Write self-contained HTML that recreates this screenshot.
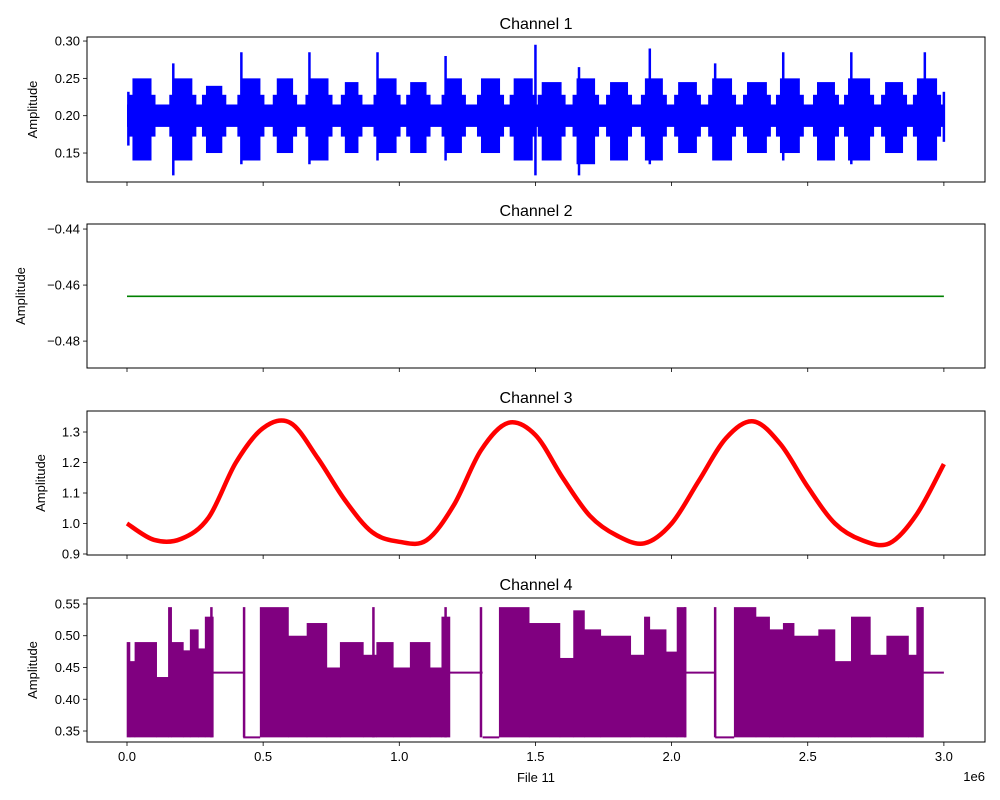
<!DOCTYPE html>
<html><head><meta charset="utf-8"><style>
html,body{margin:0;padding:0;background:#fff;}
svg{display:block;font-family:"Liberation Sans","DejaVu Sans",sans-serif;}
</style></head><body>
<svg id="fig" width="1000" height="800" viewBox="0 0 1000 800" xmlns="http://www.w3.org/2000/svg"></svg>
<script>
// ---- data ----
const xTicks = [0, 0.5, 1.0, 1.5, 2.0, 2.5, 3.0];
const xTickLabels = ["0.0","0.5","1.0","1.5","2.0","2.5","3.0"];
// Channel 1: quiet band plus bursts
const c1QuietHi = 0.215, c1QuietLo = 0.185;
const c1BurstStart = [0.02,0.17,0.29,0.42,0.55,0.67,0.80,0.92,1.04,1.17,1.30,1.42,1.523,1.651,1.774,1.902,2.024,2.149,2.277,2.398,2.534,2.648,2.784,2.901];
const c1BurstEnd   = [0.09,0.24,0.35,0.49,0.61,0.74,0.85,0.99,1.10,1.23,1.37,1.49,1.596,1.719,1.840,1.968,2.093,2.222,2.350,2.471,2.600,2.729,2.850,2.975];
const c1BurstHi    = [0.25,0.25,0.24,0.25,0.25,0.25,0.245,0.25,0.245,0.25,0.25,0.25,0.245,0.25,0.245,0.25,0.245,0.25,0.245,0.25,0.245,0.25,0.245,0.25];
const c1BurstLo    = [0.14,0.14,0.15,0.14,0.15,0.14,0.15,0.15,0.15,0.15,0.15,0.14,0.14,0.135,0.14,0.14,0.15,0.14,0.15,0.15,0.14,0.14,0.15,0.14];
const c1SpikeX  = [0.005,0.17,0.42,0.67,0.92,1.17,1.5,1.66,1.92,2.16,2.41,2.66,2.93,3.0];
const c1SpikeHi = [0.232,0.27,0.285,0.285,0.285,0.28,0.295,0.265,0.29,0.27,0.285,0.285,0.285,0.232];
const c1SpikeLo = [0.16,0.12,0.135,0.135,0.14,0.14,0.12,0.12,0.135,0.14,0.14,0.135,0.14,0.165];
// Channel 2
const c2Value = -0.464;
// Channel 3
const c3X = [0,0.1,0.2,0.3,0.4,0.5,0.6,0.7,0.8,0.9,1.0,1.1,1.2,1.3,1.4,1.5,1.6,1.7,1.8,1.9,2.0,2.1,2.2,2.3,2.4,2.5,2.6,2.7,2.8,2.9,3.0];
const c3Y = [1.0,0.946,0.95,1.02,1.20,1.313,1.33,1.215,1.077,0.972,0.94,0.945,1.06,1.24,1.33,1.29,1.15,1.025,0.96,0.935,1.0,1.14,1.28,1.335,1.26,1.12,1.0,0.945,0.935,1.03,1.195];
// Channel 4
const c4Start = [0,0.011,0.029,0.109,0.152,0.164,0.207,0.232,0.262,0.287,0.317,0.427,0.489,0.593,0.661,0.734,0.783,0.868,0.917,0.978,1.04,1.113,1.156,1.186,1.306,1.367,1.477,1.59,1.64,1.68,1.74,1.85,1.90,1.92,1.98,2.02,2.05,2.16,2.23,2.31,2.36,2.41,2.45,2.54,2.60,2.66,2.73,2.79,2.87,2.90,2.925];
const c4End   = [0.011,0.029,0.109,0.152,0.164,0.207,0.232,0.262,0.287,0.317,0.427,0.489,0.593,0.661,0.734,0.783,0.868,0.917,0.978,1.04,1.113,1.156,1.186,1.306,1.367,1.477,1.59,1.64,1.68,1.74,1.85,1.90,1.92,1.98,2.02,2.05,2.16,2.23,2.31,2.36,2.41,2.45,2.54,2.60,2.66,2.73,2.79,2.87,2.90,2.925,3.0];
const c4Hi    = [0.49,0.46,0.49,0.435,0.545,0.49,0.477,0.51,0.48,0.53,0.442,0.34,0.545,0.50,0.52,0.45,0.49,0.47,0.49,0.45,0.49,0.45,0.53,0.442,0.34,0.545,0.52,0.465,0.54,0.51,0.50,0.47,0.53,0.51,0.475,0.545,0.442,0.34,0.545,0.53,0.51,0.52,0.50,0.51,0.46,0.53,0.47,0.50,0.47,0.545,0.442];
const c4Lo    = [0.34,0.34,0.34,0.34,0.34,0.34,0.34,0.34,0.34,0.34,0.442,0.34,0.34,0.34,0.34,0.34,0.34,0.34,0.34,0.34,0.34,0.34,0.34,0.442,0.34,0.34,0.34,0.34,0.34,0.34,0.34,0.34,0.34,0.34,0.34,0.34,0.442,0.34,0.34,0.34,0.34,0.34,0.34,0.34,0.34,0.34,0.34,0.34,0.34,0.34,0.442];
const c4SpikeX = [0.31,0.43,0.905,1.17,1.30,2.05,2.16,2.92];
const c4SpikeHi = [0.545,0.545,0.545,0.545,0.545,0.545,0.545,0.545];

// ---- layout ----
const NS="http://www.w3.org/2000/svg";
const svg=document.getElementById('fig');
const L=87,R=985;
const xMin=-0.1469,xMax=3.151;
const X=v=>L+(v-xMin)/(xMax-xMin)*(R-L);
function mk(tag,attrs,parent){const e=document.createElementNS(NS,tag);for(const k in attrs)e.setAttribute(k,attrs[k]);(parent||svg).appendChild(e);return e;}
const panels=[
 {top:37,bot:182,ymin:0.1112,ymax:0.3054,ticks:[0.15,0.20,0.25,0.30],labels:["0.15","0.20","0.25","0.30"],title:"Channel 1",ylx:37},
 {top:224,bot:368,ymin:-0.4896,ymax:-0.4382,ticks:[-0.44,-0.46,-0.48],labels:["\u22120.44","\u22120.46","\u22120.48"],title:"Channel 2",ylx:25},
 {top:411,bot:555,ymin:0.8967,ymax:1.3689,ticks:[0.9,1.0,1.1,1.2,1.3],labels:["0.9","1.0","1.1","1.2","1.3"],title:"Channel 3",ylx:45},
 {top:598,bot:742,ymin:0.3327,ymax:0.5594,ticks:[0.35,0.40,0.45,0.50,0.55],labels:["0.35","0.40","0.45","0.50","0.55"],title:"Channel 4",ylx:37}
];
panels.forEach((p,i)=>{p.Y=v=>p.bot-(v-p.ymin)/(p.ymax-p.ymin)*(p.bot-p.top);});

function axes(p,i){
 const g=mk('g',{});
 
 
 const t=mk('text',{x:(L+R)/2,y:p.top-8,'text-anchor':'middle','font-size':16,fill:'#000'},g);
 t.textContent=p.title;
 
 
 p.ticks.forEach((v,k)=>{
  const y=p.Y(v);
  mk('line',{x1:L-4,x2:L,y1:y,y2:y,stroke:'#000','stroke-width':0.8},g);
  const tl=mk('text',{x:L-7,y:y+4.5,'text-anchor':'end','font-size':13,fill:'#000'},g);
  tl.textContent=p.labels[k];
  
  
 });
 xTicks.forEach((v,k)=>{
  const x=X(v);
  mk('line',{x1:x,x2:x,y1:p.bot,y2:p.bot+4,stroke:'#000','stroke-width':0.8},g);
  if(i===3){
   const tl=mk('text',{x:x,y:p.bot+19,'text-anchor':'middle','font-size':13,fill:'#000'},g);
   tl.textContent=xTickLabels[k];
   
   
  }
 });
 const yl=mk('text',{x:p.ylx,y:(p.top+p.bot)/2,'text-anchor':'middle','font-size':13,fill:'#000',transform:'rotate(-90 '+p.ylx+' '+(p.top+p.bot)/2+')'},g);
 yl.textContent='Amplitude';
 
 
 return g;
}
function frame(p,g){mk('rect',{x:L,y:p.top,width:R-L,height:p.bot-p.top,fill:'none',stroke:'#000','stroke-width':1},g);}

// Channel 1
{const p=panels[0];const g=axes(p,0);const s=mk('g',{});
 
 mk('rect',{x:X(0),y:p.Y(c1QuietHi),width:X(3)-X(0),height:p.Y(c1QuietLo)-p.Y(c1QuietHi),fill:'#0000ff'},s);
 c1BurstStart.forEach((st,k)=>{mk('rect',{x:X(st),y:p.Y(c1BurstHi[k]),width:X(c1BurstEnd[k])-X(st),height:p.Y(c1BurstLo[k])-p.Y(c1BurstHi[k]),fill:'#0000ff'},s);
  mk('rect',{x:X(st)-4,y:p.Y(0.228),width:X(c1BurstEnd[k])-X(st)+8,height:p.Y(0.172)-p.Y(0.228),fill:'#0000ff'},s);
 });
 c1SpikeX.forEach((sx,k)=>{mk('line',{x1:X(sx),x2:X(sx),y1:p.Y(c1SpikeHi[k]),y2:p.Y(c1SpikeLo[k]),stroke:'#0000ff','stroke-width':2.5},s);});
 frame(p,g);}
// Channel 2
{const p=panels[1];const g=axes(p,1);
 const l=mk('line',{x1:X(0),x2:X(3),y1:p.Y(c2Value),y2:p.Y(c2Value),stroke:'#008000','stroke-width':1.6});
 
 frame(p,g);}
// Channel 3
{const p=panels[2];const g=axes(p,2);
 const pts=c3X.map((x,k)=>[X(x),p.Y(c3Y[k])]);
 let d='M'+pts[0][0]+','+pts[0][1];
 for(let k=0;k<pts.length-1;k++){const p0=pts[Math.max(0,k-1)],p1=pts[k],p2=pts[k+1],p3=pts[Math.min(pts.length-1,k+2)];
  d+=' C'+(p1[0]+(p2[0]-p0[0])/6)+','+(p1[1]+(p2[1]-p0[1])/6)+' '+(p2[0]-(p3[0]-p1[0])/6)+','+(p2[1]-(p3[1]-p1[1])/6)+' '+p2[0]+','+p2[1];}
 const path=mk('path',{d:d,fill:'none',stroke:'#ff0000','stroke-width':4.5,'stroke-linejoin':'round'});
 
 frame(p,g);}
// Channel 4
{const p=panels[3];const g=axes(p,3);const s=mk('g',{});
 
 c4Start.forEach((st,k)=>{
  if(c4Hi[k]===c4Lo[k]||c4Hi[k]<=0.341){
   mk('line',{x1:X(st),x2:X(c4End[k]),y1:p.Y(c4Hi[k]),y2:p.Y(c4Hi[k]),stroke:'#800080','stroke-width':2},s);
  } else {
   mk('rect',{x:X(st)-0.3,y:p.Y(c4Hi[k]),width:X(c4End[k])-X(st)+0.6,height:p.Y(c4Lo[k])-p.Y(c4Hi[k]),fill:'#800080'},s);
  }
 });
 c4SpikeX.forEach((sx,k)=>{mk('line',{x1:X(sx),x2:X(sx),y1:p.Y(c4SpikeHi[k]),y2:p.Y(0.34),stroke:'#800080','stroke-width':2.5},s);});
 frame(p,g);}
// x axis title and offset
{const t=mk('text',{x:536,y:782,'text-anchor':'middle','font-size':13,fill:'#000'});t.textContent='File 11';
 
 const o=mk('text',{x:985,y:781,'text-anchor':'end','font-size':13,fill:'#000'});o.textContent='1e6';
 }
</script>
</body></html>
